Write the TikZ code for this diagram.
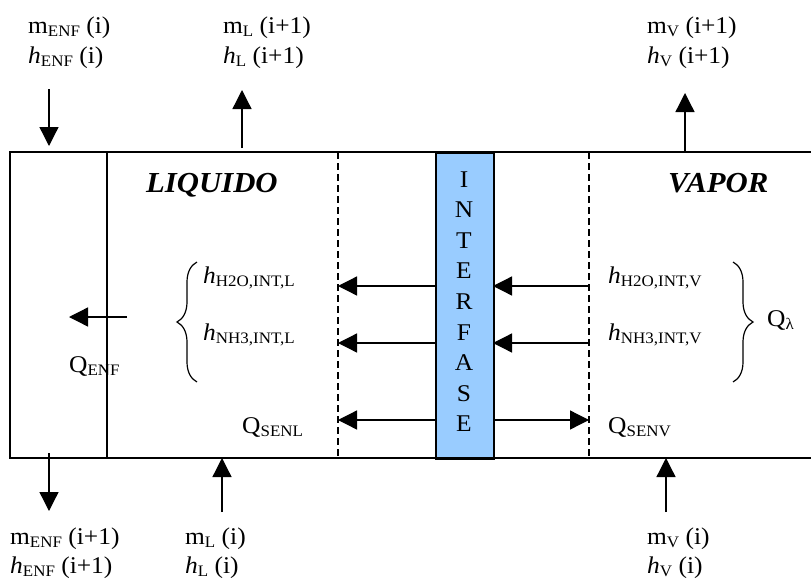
\documentclass[tikz,border=0pt]{standalone}
\usepackage{fontspec}
\setmainfont{Liberation Serif}[FakeStretch=1.06]
\usetikzlibrary{arrows.meta,decorations.pathreplacing}
\newcommand{\sbs}[1]{\raisebox{-0.15em}{\fontsize{16}{16}\selectfont #1}}
\definecolor{ifblue}{HTML}{99CCFF}
\begin{document}
\begin{tikzpicture}[x=1pt,y=-1pt,
  lbl/.style={anchor=base west,inner sep=0pt,font=\fontsize{24}{28}\selectfont},
  letter/.style={anchor=base,inner sep=0pt,font=\fontsize{24}{28}\selectfont},
  phase/.style={anchor=base west,inner sep=0pt,font=\fontsize{29}{32}\selectfont\bfseries\itshape},
  flow/.style={line width=1.3pt,-{Triangle[length=19pt,width=19pt]}},
  wall/.style={line width=1.6pt},
  divline/.style={line width=1.2pt,dash pattern=on 7pt off 4pt},
  brc/.style={decorate,decoration={brace,amplitude=20pt},line width=1.2pt}]
\useasboundingbox (0,0) rectangle (811,581);

% walls
\coordinate (tl) at (10,152);
\coordinate (bl) at (10,458);
\coordinate (tr) at (811,152);
\coordinate (br) at (811,458);
\coordinate (dt) at (107,152);
\coordinate (db) at (107,458);
\node[draw,wall,fill=ifblue,anchor=north west,minimum width=58pt,minimum height=306pt,inner sep=0pt] (intf) at (435,152) {};
\draw[wall] (tr) -- (tl) -- (bl) -- (br);
\draw[wall] (dt) -- (db);
\coordinate (dlt) at (338,152);
\coordinate (dlb) at (338,458);
\coordinate (drt) at (589,152);
\coordinate (drb) at (589,458);
\draw[divline] (dlt) -- (dlb);
\draw[divline] (drt) -- (drb);

% INTERFASE letters
\foreach \ch [count=\k from 0] in {I,N,T,E,R,F,A,S,E}
  \node[letter] (if\k) at (464,187+30.6*\k) {\ch};

% phase names
\node[phase] (liq) at (146,192) {LIQUIDO};
\node[phase] (vap) at (668,192) {VAPOR};

% top labels
\node[lbl] (menfi) at (28,33) {m\sbs{ENF} (i)};
\node[lbl] (henfi) at (28,63) {\textit{h}\sbs{ENF} (i)};
\node[lbl] (mlo) at (223,33) {m\sbs{L} (i+1)};
\node[lbl] (hlo) at (223,63) {\textit{h}\sbs{L} (i+1)};
\node[lbl] (mvo) at (647,33) {m\sbs{V} (i+1)};
\node[lbl] (hvo) at (647,63) {\textit{h}\sbs{V} (i+1)};

% bottom labels
\node[lbl] (menfo) at (10,544) {m\sbs{ENF} (i+1)};
\node[lbl] (henfo) at (10,573) {\textit{h}\sbs{ENF} (i+1)};
\node[lbl] (mli) at (185,544) {m\sbs{L} (i)};
\node[lbl] (hli) at (185,573) {\textit{h}\sbs{L} (i)};
\node[lbl] (mvi) at (647,544) {m\sbs{V} (i)};
\node[lbl] (hvi) at (647,573) {\textit{h}\sbs{V} (i)};

% vertical flows
\coordinate (a1s) at (49,89);  \coordinate (a1e) at (49,146);
\coordinate (a2s) at (242,148); \coordinate (a2e) at (242,90);
\coordinate (a3s) at (685,152); \coordinate (a3e) at (685,93);
\coordinate (a4s) at (49,453); \coordinate (a4e) at (49,511);
\coordinate (a5s) at (222,512); \coordinate (a5e) at (222,458);
\coordinate (a6s) at (666,512); \coordinate (a6e) at (666,458);
\draw[flow] (a1s) -- (a1e);
\draw[flow] (a2s) -- (a2e);
\draw[flow] (a3s) -- (a3e);
\draw[flow] (a4s) -- (a4e);
\draw[flow] (a5s) -- (a5e);
\draw[flow] (a6s) -- (a6e);

% Q_ENF
\coordinate (qes) at (127,317); \coordinate (qee) at (69,317);
\draw[flow] (qes) -- (qee);
\node[lbl] (qenf) at (69,372) {Q\sbs{ENF}};

% horizontal flows
\coordinate (il1) at (435,286); \coordinate (dl1) at (338,286);
\coordinate (il2) at (435,343); \coordinate (dl2) at (338,343);
\coordinate (il3) at (435,420); \coordinate (dl3) at (338,420);
\coordinate (ir1) at (493,286); \coordinate (dr1) at (589,286);
\coordinate (ir2) at (493,343); \coordinate (dr2) at (589,343);
\coordinate (ir3) at (493,420); \coordinate (dr3) at (589,420);
\draw[flow] (il1) -- (dl1);
\draw[flow] (il2) -- (dl2);
\draw[flow] (il3) -- (dl3);
\draw[flow] (dr1) -- (ir1);
\draw[flow] (dr2) -- (ir2);
\draw[flow] (ir3) -- (dr3);

% enthalpy labels
\node[lbl] (hwl) at (203,283) {\textit{h}\sbs{H2O,INT,L}};
\node[lbl] (hal) at (203,340) {\textit{h}\sbs{NH3,INT,L}};
\node[lbl] (qsl) at (242,433) {Q\sbs{SENL}};
\node[lbl] (hwv) at (608,283) {\textit{h}\sbs{H2O,INT,V}};
\node[lbl] (hav) at (608,340) {\textit{h}\sbs{NH3,INT,V}};
\node[lbl] (qsv) at (608,433) {Q\sbs{SENV}};
\node[lbl] (ql) at (767,326) {Q\sbs{λ}};

% braces
\coordinate (b1s) at (197,382); \coordinate (b1e) at (197,262);
\coordinate (b2s) at (733,262); \coordinate (b2e) at (733,382);
\draw[brc] (b1s) -- (b1e);
\draw[brc] (b2s) -- (b2e);
\end{tikzpicture}
\end{document}
